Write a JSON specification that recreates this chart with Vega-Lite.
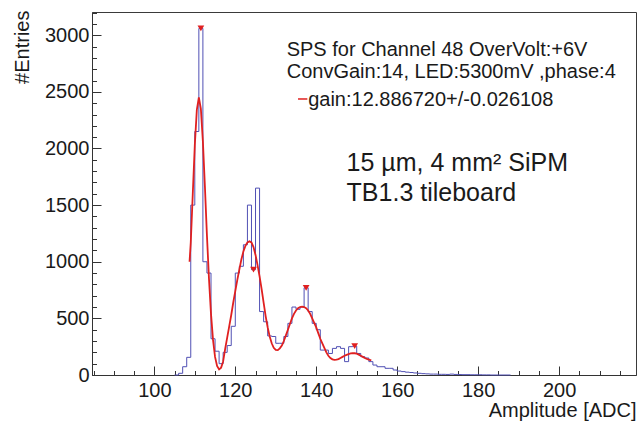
{
  "$schema": "https://vega.github.io/schema/vega-lite/v6.json",
  "width": 544,
  "height": 363,
  "autosize": {"type": "none"},
  "padding": {"left": 92, "top": 12, "right": 5, "bottom": 46},
  "background": "white",
  "config": {
    "view": {"stroke": "#3a3a3a", "strokeWidth": 1},
    "font": "Liberation Sans",
    "axis": {"grid": false}
  },
  "datasets": {
    "hist": [
      {"x": 105, "count": 0}, {"x": 106, "count": 15}, {"x": 107, "count": 73}, {"x": 108, "count": 156},
      {"x": 109, "count": 1500}, {"x": 110, "count": 2150}, {"x": 111, "count": 3060}, {"x": 112, "count": 1000},
      {"x": 113, "count": 900}, {"x": 114, "count": 320}, {"x": 115, "count": 210}, {"x": 116, "count": 100},
      {"x": 117, "count": 200}, {"x": 118, "count": 260}, {"x": 119, "count": 430}, {"x": 120, "count": 900},
      {"x": 121, "count": 960}, {"x": 122, "count": 1150}, {"x": 123, "count": 1500}, {"x": 124, "count": 930},
      {"x": 125, "count": 1650}, {"x": 126, "count": 560}, {"x": 127, "count": 470}, {"x": 128, "count": 345},
      {"x": 129, "count": 340}, {"x": 130, "count": 280}, {"x": 131, "count": 280}, {"x": 132, "count": 340},
      {"x": 133, "count": 456}, {"x": 134, "count": 600}, {"x": 135, "count": 580}, {"x": 136, "count": 600},
      {"x": 137, "count": 770}, {"x": 138, "count": 560}, {"x": 139, "count": 456}, {"x": 140, "count": 400},
      {"x": 141, "count": 220}, {"x": 142, "count": 220}, {"x": 143, "count": 190}, {"x": 144, "count": 235},
      {"x": 145, "count": 250}, {"x": 146, "count": 235}, {"x": 147, "count": 118}, {"x": 148, "count": 250},
      {"x": 149, "count": 255}, {"x": 150, "count": 190}, {"x": 151, "count": 162}, {"x": 152, "count": 150},
      {"x": 153, "count": 118}, {"x": 154, "count": 88}, {"x": 155, "count": 73}, {"x": 156, "count": 73},
      {"x": 157, "count": 59}, {"x": 158, "count": 59}, {"x": 159, "count": 44}, {"x": 160, "count": 35},
      {"x": 161, "count": 30}, {"x": 162, "count": 25}, {"x": 163, "count": 22}, {"x": 164, "count": 18},
      {"x": 165, "count": 15}, {"x": 166, "count": 12}, {"x": 167, "count": 10}, {"x": 168, "count": 8},
      {"x": 169, "count": 8}, {"x": 170, "count": 6}, {"x": 171, "count": 6}, {"x": 172, "count": 5},
      {"x": 173, "count": 8}, {"x": 174, "count": 5}, {"x": 175, "count": 4}, {"x": 176, "count": 3},
      {"x": 177, "count": 3}, {"x": 178, "count": 2}, {"x": 179, "count": 2}, {"x": 180, "count": 2},
      {"x": 181, "count": 1}, {"x": 182, "count": 1}, {"x": 183, "count": 0}, {"x": 188, "count": 0}
    ],
    "fit": [
      {"x": 108.7, "y": 1000}, {"x": 109.0, "y": 1170}, {"x": 109.5, "y": 1600}, {"x": 110.0, "y": 2030},
      {"x": 110.5, "y": 2340}, {"x": 111.0, "y": 2450}, {"x": 111.5, "y": 2350}, {"x": 112.0, "y": 2060},
      {"x": 112.5, "y": 1660}, {"x": 113.0, "y": 1230}, {"x": 113.5, "y": 850}, {"x": 114.0, "y": 540},
      {"x": 114.5, "y": 310}, {"x": 115.0, "y": 160}, {"x": 115.5, "y": 80}, {"x": 116.0, "y": 50},
      {"x": 116.5, "y": 65}, {"x": 117.0, "y": 120}, {"x": 117.5, "y": 230}, {"x": 118.0, "y": 330},
      {"x": 118.5, "y": 430}, {"x": 119.0, "y": 530}, {"x": 119.5, "y": 640}, {"x": 120.0, "y": 740},
      {"x": 120.5, "y": 840}, {"x": 121.0, "y": 930}, {"x": 121.5, "y": 1020}, {"x": 122.0, "y": 1090},
      {"x": 122.5, "y": 1140}, {"x": 123.0, "y": 1170}, {"x": 123.5, "y": 1180}, {"x": 124.0, "y": 1170},
      {"x": 124.5, "y": 1130}, {"x": 125.0, "y": 1060}, {"x": 125.5, "y": 970}, {"x": 126.0, "y": 870},
      {"x": 126.5, "y": 760}, {"x": 127.0, "y": 640}, {"x": 127.5, "y": 520}, {"x": 128.0, "y": 420},
      {"x": 128.5, "y": 340}, {"x": 129.0, "y": 280}, {"x": 129.5, "y": 240}, {"x": 130.0, "y": 222},
      {"x": 130.5, "y": 220}, {"x": 131.0, "y": 235}, {"x": 131.5, "y": 260}, {"x": 132.0, "y": 300},
      {"x": 132.5, "y": 350}, {"x": 133.0, "y": 400}, {"x": 133.5, "y": 450}, {"x": 134.0, "y": 500},
      {"x": 134.5, "y": 540}, {"x": 135.0, "y": 570}, {"x": 135.5, "y": 590}, {"x": 136.0, "y": 600},
      {"x": 136.5, "y": 603}, {"x": 137.0, "y": 600}, {"x": 137.5, "y": 590}, {"x": 138.0, "y": 570},
      {"x": 138.5, "y": 540}, {"x": 139.0, "y": 500}, {"x": 139.5, "y": 460}, {"x": 140.0, "y": 420},
      {"x": 140.5, "y": 370}, {"x": 141.0, "y": 320}, {"x": 141.5, "y": 280}, {"x": 142.0, "y": 240},
      {"x": 142.5, "y": 200}, {"x": 143.0, "y": 170}, {"x": 143.5, "y": 150}, {"x": 144.0, "y": 138},
      {"x": 144.5, "y": 133}, {"x": 145.0, "y": 135}, {"x": 145.5, "y": 140}, {"x": 146.0, "y": 150},
      {"x": 146.5, "y": 160}, {"x": 147.0, "y": 170}, {"x": 147.5, "y": 178}, {"x": 148.0, "y": 185},
      {"x": 148.5, "y": 190}, {"x": 149.0, "y": 192}, {"x": 149.5, "y": 192}, {"x": 150.0, "y": 188},
      {"x": 150.5, "y": 180}, {"x": 151.0, "y": 170}, {"x": 151.5, "y": 160}, {"x": 152.0, "y": 150},
      {"x": 152.5, "y": 142}, {"x": 153.0, "y": 136}, {"x": 153.6, "y": 130}
    ],
    "peaks": [
      {"x": 111.5, "y": 3060}, {"x": 124.5, "y": 930}, {"x": 137.5, "y": 770}, {"x": 149.5, "y": 255}
    ]
  },
  "resolve": {"axis": {"x": "independent", "y": "independent"}},
  "layer": [
    {
      "data": {"name": "hist"},
      "mark": {"type": "line", "interpolate": "step-after", "color": "#5050b4", "strokeWidth": 1},
      "encoding": {
        "x": {
          "field": "x", "type": "quantitative",
          "scale": {"domain": [84.6, 219], "nice": false, "zero": false},
          "axis": {
            "orient": "bottom",
            "values": [100, 120, 140, 160, 180, 200],
            "format": "d",
            "tickSize": -9, "tickColor": "#333333", "domainColor": "#333333",
            "labelFontSize": 20, "labelColor": "#1a1a1a", "labelPadding": 14,
            "labelFlush": false, "labelOverlap": false,
            "title": "Amplitude [ADC]", "titleFontSize": 20, "titleFontWeight": "normal",
            "titleColor": "#1a1a1a", "titleAnchor": "end", "titleAlign": "right",
            "titleBaseline": "alphabetic", "titleY": 41
          }
        },
        "y": {
          "field": "count", "type": "quantitative",
          "scale": {"domain": [0, 3205], "nice": false},
          "axis": {
            "orient": "left",
            "values": [0, 500, 1000, 1500, 2000, 2500, 3000],
            "format": "d",
            "tickSize": -9, "tickColor": "#333333", "domainColor": "#333333",
            "labelFontSize": 20, "labelColor": "#1a1a1a", "labelPadding": 12,
            "labelOverlap": false,
            "title": "#Entries", "titleFontSize": 20, "titleFontWeight": "normal",
            "titleColor": "#1a1a1a", "titleAnchor": "end", "titleAlign": "right",
            "titleBaseline": "alphabetic", "titleAngle": -90, "titleX": -64, "titleY": -2
          }
        }
      }
    },
    {
      "data": {"name": "fit"},
      "mark": {"type": "line", "color": "#e02020", "strokeWidth": 1.8},
      "encoding": {
        "x": {
          "field": "x", "type": "quantitative",
          "scale": {"domain": [84.6, 219], "nice": false, "zero": false},
          "axis": {
            "orient": "bottom",
            "values": [85, 90, 95, 105, 110, 115, 125, 130, 135, 145, 150, 155, 165, 170, 175, 185, 190, 195, 205, 210, 215],
            "tickSize": -4.5, "tickColor": "#333333", "domain": false, "labels": false, "title": null
          }
        },
        "y": {
          "field": "y", "type": "quantitative",
          "scale": {"domain": [0, 3205], "nice": false},
          "axis": {
            "orient": "left",
            "values": [100, 200, 300, 400, 600, 700, 800, 900, 1100, 1200, 1300, 1400, 1600, 1700, 1800, 1900, 2100, 2200, 2300, 2400, 2600, 2700, 2800, 2900, 3100, 3200],
            "tickSize": -4.5, "tickColor": "#333333", "domain": false, "labels": false, "title": null
          }
        }
      }
    },
    {
      "data": {"name": "peaks"},
      "mark": {"type": "point", "shape": "triangle-down", "filled": true, "color": "#e02020", "opacity": 1, "size": 45},
      "encoding": {
        "x": {"field": "x", "type": "quantitative", "scale": {"domain": [84.6, 219], "nice": false, "zero": false}, "axis": null},
        "y": {"field": "y", "type": "quantitative", "scale": {"domain": [0, 3205], "nice": false}, "axis": null}
      }
    },
    {
      "data": {"values": [{"t": "SPS for Channel 48 OverVolt:+6V"}]},
      "mark": {"type": "text", "align": "left", "baseline": "alphabetic", "fontSize": 20, "color": "#1a1a1a"},
      "encoding": {
        "x": {"datum": 132.7, "type": "quantitative", "scale": {"domain": [84.6, 219], "nice": false, "zero": false}, "axis": null},
        "y": {"datum": 2816, "type": "quantitative", "scale": {"domain": [0, 3205], "nice": false}, "axis": null},
        "text": {"field": "t"}
      }
    },
    {
      "data": {"values": [{"t": "ConvGain:14, LED:5300mV ,phase:4"}]},
      "mark": {"type": "text", "align": "left", "baseline": "alphabetic", "fontSize": 20, "color": "#1a1a1a"},
      "encoding": {
        "x": {"datum": 132.7, "type": "quantitative", "scale": {"domain": [84.6, 219], "nice": false, "zero": false}, "axis": null},
        "y": {"datum": 2626, "type": "quantitative", "scale": {"domain": [0, 3205], "nice": false}, "axis": null},
        "text": {"field": "t"}
      }
    },
    {
      "data": {"values": [{"t": "gain:12.886720+/-0.026108"}]},
      "mark": {"type": "text", "align": "left", "baseline": "alphabetic", "fontSize": 20, "color": "#1a1a1a"},
      "encoding": {
        "x": {"datum": 138.0, "type": "quantitative", "scale": {"domain": [84.6, 219], "nice": false, "zero": false}, "axis": null},
        "y": {"datum": 2375, "type": "quantitative", "scale": {"domain": [0, 3205], "nice": false}, "axis": null},
        "text": {"field": "t"}
      }
    },
    {
      "data": {"values": [{"t": "gain"}]},
      "mark": {"type": "rule", "color": "#e02020", "strokeWidth": 1.5},
      "encoding": {
        "x": {"datum": 135.5, "type": "quantitative", "scale": {"domain": [84.6, 219], "nice": false, "zero": false}, "axis": null},
        "x2": {"datum": 137.8},
        "y": {"datum": 2437, "type": "quantitative", "scale": {"domain": [0, 3205], "nice": false}, "axis": null}
      }
    },
    {
      "data": {"values": [{"t": "15 µm, 4 mm² SiPM"}]},
      "mark": {"type": "text", "align": "left", "baseline": "alphabetic", "fontSize": 25, "color": "#1a1a1a"},
      "encoding": {
        "x": {"datum": 147.5, "type": "quantitative", "scale": {"domain": [84.6, 219], "nice": false, "zero": false}, "axis": null},
        "y": {"datum": 1801, "type": "quantitative", "scale": {"domain": [0, 3205], "nice": false}, "axis": null},
        "text": {"field": "t"}
      }
    },
    {
      "data": {"values": [{"t": "TB1.3 tileboard"}]},
      "mark": {"type": "text", "align": "left", "baseline": "alphabetic", "fontSize": 25, "color": "#1a1a1a"},
      "encoding": {
        "x": {"datum": 147.5, "type": "quantitative", "scale": {"domain": [84.6, 219], "nice": false, "zero": false}, "axis": null},
        "y": {"datum": 1536, "type": "quantitative", "scale": {"domain": [0, 3205], "nice": false}, "axis": null},
        "text": {"field": "t"}
      }
    }
  ]
}
